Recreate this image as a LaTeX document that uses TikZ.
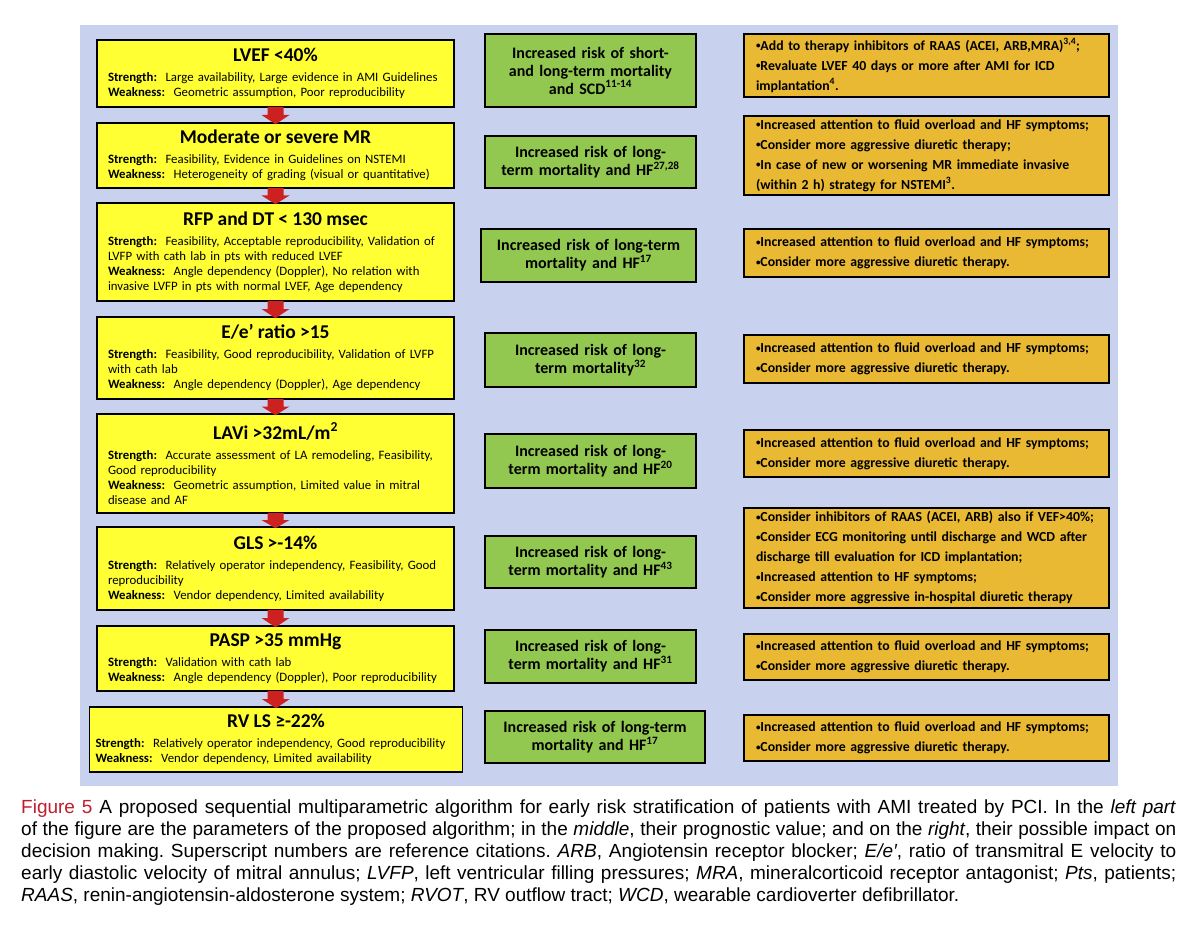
\documentclass[tikz,border=0pt]{standalone}
\usepackage{fontspec}
\setmainfont[WordSpace=0.85]{Carlito}
\newfontfamily\capfont{Liberation Sans}
\usetikzlibrary{calc}
\definecolor{panelblue}{RGB}{200,210,238}
\definecolor{paramyellow}{RGB}{255,255,51}
\definecolor{riskgreen}{RGB}{146,200,80}
\definecolor{actionorange}{RGB}{233,185,52}
\definecolor{arrowred}{RGB}{205,32,32}
\definecolor{figred}{RGB}{190,30,45}
\tikzset{
	parambox/.style={draw=black,line width=1.6pt,fill=paramyellow,inner xsep=11pt,inner ysep=0pt,
	align=left,font=\fontsize{12.8}{15}\selectfont},
	riskbox/.style={draw=black,line width=1.6pt,fill=riskgreen,inner xsep=6pt,inner ysep=0pt,
	align=center,font=\fontsize{16}{18}\selectfont\bfseries},
	actionbox/.style={draw=black,line width=1.6pt,fill=actionorange,inner xsep=12pt,inner ysep=0pt,
	align=left,font=\fontsize{13.8}{20}\selectfont\bfseries}
}
\def\paramtitle#1{{\centering\fontsize{19.5}{19.5}\selectfont\bfseries #1\par}\vspace{5pt}}
\def\bul{\raisebox{1.3pt}{\fontsize{9}{9}\selectfont•}}
\def\blockarrow(#1)(#2){
	\fill[arrowred] ($(#1.south)+(-8,-1)$) -- ($(#1.south)+(8,-1)$) -- ($(#1.south)!0.5!(#2.north)+(8,0)$)
	-- ($(#1.south)!0.5!(#2.north)+(14,0)$) -- ($(#2.north)+(0,2)$)
	-- ($(#1.south)!0.5!(#2.north)+(-14,0)$) -- ($(#1.south)!0.5!(#2.north)+(-8,0)$) -- cycle; }

\begin{document}
\begin{tikzpicture}[x=1pt,y=-1pt]
	\useasboundingbox (0,0) rectangle (1200,936);
	\fill[panelblue] (80,25) rectangle (1118,786);
	\node[parambox,text width=335pt,minimum height=67pt] (P1) at (275.5,73.5) {\paramtitle{LVEF <40\%}%
	\textbf{Strength:}\, Large availability, Large evidence in AMI Guidelines\\
	\textbf{Weakness:}\, Geometric assumption, Poor reproducibility};
	\node[parambox,text width=335pt,minimum height=65pt] (P2) at (275.5,155.5) {\paramtitle{Moderate or severe MR}%
	\textbf{Strength:}\, Feasibility, Evidence in Guidelines on NSTEMI\\
	\textbf{Weakness:}\, Heterogeneity of grading (visual or quantitative)};
	\node[parambox,text width=335pt,minimum height=98pt] (P3) at (275.5,252) {\paramtitle{RFP and DT < 130 msec}%
	\textbf{Strength:}\, Feasibility, Acceptable reproducibility, Validation of\\
	LVFP with cath lab in pts with reduced LVEF\\
	\textbf{Weakness:}\, Angle dependency (Doppler), No relation with\\
	invasive LVFP in pts with normal LVEF, Age dependency};
	\node[parambox,text width=335pt,minimum height=82pt] (P4) at (275.5,358) {\paramtitle{E/e’ ratio >15}%
	\textbf{Strength:}\, Feasibility, Good reproducibility, Validation of LVFP\\
	with cath lab\\
	\textbf{Weakness:}\, Angle dependency (Doppler), Age dependency};
	\node[parambox,text width=335pt,minimum height=99pt] (P5) at (275.5,463.5) {\paramtitle{LAVi >32mL/m\textsuperscript{2}}%
	\textbf{Strength:}\, Accurate assessment of LA remodeling, Feasibility,\\
	Good reproducibility\\
	\textbf{Weakness:}\, Geometric assumption, Limited value in mitral\\
	disease and AF};
	\node[parambox,text width=335pt,minimum height=83pt] (P6) at (275.5,568.5) {\paramtitle{GLS >-14\%}%
	\textbf{Strength:}\, Relatively operator independency, Feasibility, Good\\
	reproducibility\\
	\textbf{Weakness:}\, Vendor dependency, Limited availability};
	\node[parambox,text width=335pt,minimum height=65pt] (P7) at (275.5,658.5) {\paramtitle{PASP >35 mmHg}%
	\textbf{Strength:}\, Validation with cath lab\\
	\textbf{Weakness:}\, Angle dependency (Doppler), Poor reproducibility};
	\node[parambox,text width=361pt,inner xsep=6pt,minimum height=65pt] (P8) at (276,739.5) {\paramtitle{RV LS ≥-22\%}%
	\textbf{Strength:}\, Relatively operator independency, Good reproducibility\\
	\textbf{Weakness:}\, Vendor dependency, Limited availability};
	\blockarrow(P1)(P2)
	\blockarrow(P2)(P3)
	\blockarrow(P3)(P4)
	\blockarrow(P4)(P5)
	\blockarrow(P5)(P6)
	\blockarrow(P6)(P7)
	\blockarrow(P7)(P8)
	\node[riskbox,text width=199pt,minimum height=73pt] (R1) at (590.5,70.5)
	{Increased risk of short-\\and long-term mortality\\and SCD\textsuperscript{11-14}};
	\node[riskbox,text width=199pt,minimum height=52pt] (R2) at (590.5,162)
	{Increased risk of long-\\term mortality and HF\textsuperscript{27,28}};
	\node[riskbox,text width=203pt,minimum height=53pt] (R3) at (588.5,255.5)
	{Increased risk of long-term\\mortality and HF\textsuperscript{17}};
	\node[riskbox,text width=199pt,minimum height=54pt] (R4) at (590.5,360)
	{Increased risk of long-\\term mortality\textsuperscript{32}};
	\node[riskbox,text width=199pt,minimum height=54pt] (R5) at (590.5,461)
	{Increased risk of long-\\term mortality and HF\textsuperscript{20}};
	\node[riskbox,text width=199pt,minimum height=52pt] (R6) at (590.5,562)
	{Increased risk of long-\\term mortality and HF\textsuperscript{43}};
	\node[riskbox,text width=199pt,minimum height=53pt] (R7) at (590.5,656.5)
	{Increased risk of long-\\term mortality and HF\textsuperscript{31}};
	\node[riskbox,text width=208pt,minimum height=52pt] (R8) at (595,737)
	{Increased risk of long-term\\mortality and HF\textsuperscript{17}};
	\node[actionbox,text width=341pt,minimum height=63pt] (D1) at (926.5,65.5)
	{\bul Add to therapy inhibitors of RAAS (ACEI, ARB,MRA)\textsuperscript{3,4};\\
	\bul Revaluate LVEF 40 days or more after AMI for ICD\\implantation\textsuperscript{4}.};
	\node[actionbox,text width=341pt,minimum height=79pt] (D2) at (926.5,155.5)
	{\bul Increased attention to fluid overload and HF symptoms;\\
	\bul Consider more aggressive diuretic therapy;\\
	\bul In case of new or worsening MR immediate invasive\\
	(within 2 h) strategy for NSTEMI\textsuperscript{3}.};
	\node[actionbox,text width=341pt,minimum height=48pt] (D3) at (926.5,253)
	{\bul Increased attention to fluid overload and HF symptoms;\\
	\bul Consider more aggressive diuretic therapy.};
	\node[actionbox,text width=341pt,minimum height=48pt] (D4) at (926.5,359)
	{\bul Increased attention to fluid overload and HF symptoms;\\
	\bul Consider more aggressive diuretic therapy.};
	\node[actionbox,text width=341pt,minimum height=47pt] (D5) at (926.5,453.5)
	{\bul Increased attention to fluid overload and HF symptoms;\\
	\bul Consider more aggressive diuretic therapy.};
	\node[actionbox,text width=341pt,minimum height=100pt] (D6) at (926.5,558)
	{\bul Consider inhibitors of RAAS (ACEI, ARB) also if VEF>40\%;\\
	\bul Consider ECG monitoring until discharge and WCD after\\
	discharge till evaluation for ICD implantation;\\
	\bul Increased attention to HF symptoms;\\
	\bul Consider more aggressive in-hospital diuretic therapy};
	\node[actionbox,text width=341pt,minimum height=46pt] (D7) at (926.5,657)
	{\bul Increased attention to fluid overload and HF symptoms;\\
	\bul Consider more aggressive diuretic therapy.};
	\node[actionbox,text width=341pt,minimum height=46pt] (D8) at (926.5,738)
	{\bul Increased attention to fluid overload and HF symptoms;\\
	\bul Consider more aggressive diuretic therapy.};
	\node[anchor=north west,inner sep=0pt,text width=1155pt,align=justify,
	font=\capfont\fontsize{19}{22}\selectfont\frenchspacing] (C) at (21,800)
	{\textcolor{figred}{Figure 5}\hspace{7pt}A proposed sequential multiparametric algorithm for early risk stratification of patients with AMI treated by PCI. In the \textit{left part}\linebreak
	of the figure are the parameters of the proposed algorithm; in the \textit{middle}, their prognostic value; and on the \textit{right}, their possible impact on\linebreak
	decision making. Superscript numbers are reference citations. \textit{ARB}, Angiotensin receptor blocker; \textit{E/e′}, ratio of transmitral E velocity to\linebreak
	early diastolic velocity of mitral annulus; \textit{LVFP}, left ventricular filling pressures; \textit{MRA}, mineralcorticoid receptor antagonist; \textit{Pts}, patients;\linebreak
	\textit{RAAS}, renin-angiotensin-aldosterone system; \textit{RVOT}, RV outflow tract; \textit{WCD}, wearable cardioverter defibrillator.};
\end{tikzpicture}
\end{document}
